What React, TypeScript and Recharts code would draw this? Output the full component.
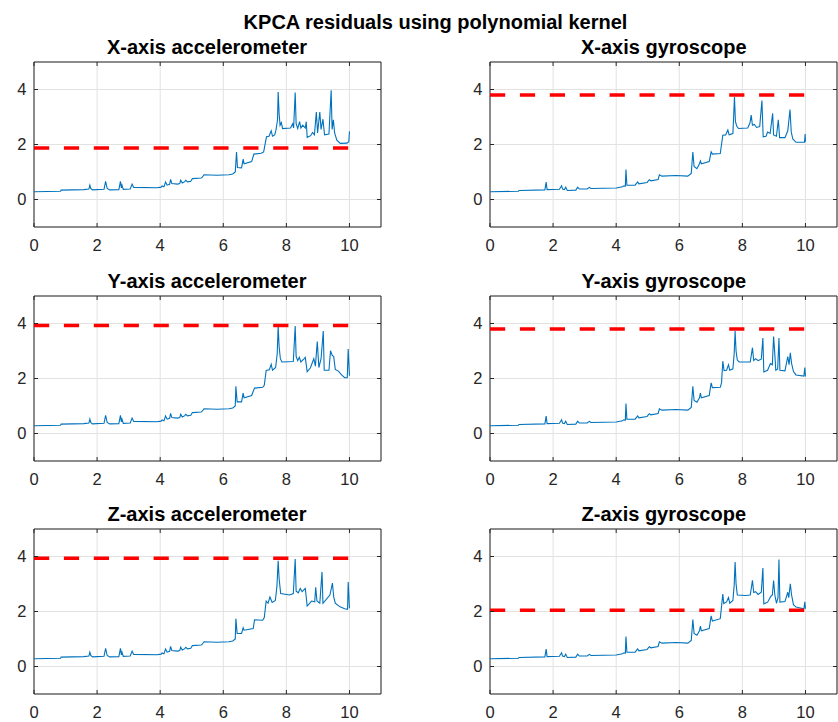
import { CartesianGrid, Line, LineChart, ReferenceArea, XAxis, YAxis } from "recharts";

type Pt = [number, number];

// shared low-amplitude start of the accelerometer residuals (x 0..6.3)
const accelEarly: Pt[] = [
  [0, 0.28], [0.84, 0.3], [0.86, 0.34], [1.58, 0.36], [1.74, 0.38], [1.77, 0.52], [1.8, 0.4], [1.85, 0.35],
  [2.22, 0.37], [2.27, 0.66], [2.32, 0.4], [2.4, 0.35], [2.69, 0.36], [2.74, 0.66], [2.77, 0.42], [2.79, 0.52],
  [2.83, 0.37], [3.05, 0.38], [3.11, 0.56], [3.16, 0.44], [3.9, 0.43], [4.03, 0.45], [4.06, 0.49], [4.12, 0.46],
  [4.17, 0.64], [4.22, 0.52], [4.3, 0.55], [4.33, 0.73], [4.37, 0.58], [4.55, 0.56], [4.62, 0.58], [4.65, 0.7],
  [4.7, 0.6], [4.78, 0.65], [4.81, 0.7], [4.87, 0.64], [4.97, 0.66], [5.02, 0.76], [5.3, 0.78], [5.34, 0.82],
  [5.39, 0.9], [5.8, 0.88], [6.18, 0.9], [6.3, 0.93],
];

const gyroEarly: Pt[] = [
  [0, 0.28], [0.9, 0.3], [0.92, 0.33], [1.74, 0.35], [1.78, 0.63], [1.81, 0.36], [2.2, 0.37], [2.27, 0.5],
  [2.3, 0.38], [2.36, 0.36], [2.4, 0.45], [2.45, 0.33], [2.72, 0.34], [2.78, 0.45], [2.83, 0.38], [3.08, 0.38],
  [3.15, 0.44], [3.2, 0.4], [4.0, 0.42], [4.2, 0.46], [4.24, 0.5], [4.29, 0.48], [4.31, 1.09], [4.34, 0.52],
  [4.6, 0.52], [4.68, 0.64], [4.72, 0.57], [4.98, 0.62], [5.05, 0.72], [5.1, 0.68], [5.33, 0.73], [5.37, 0.9],
  [5.45, 0.85], [5.9, 0.87], [6.27, 0.85],
];

const accelXLate: Pt[] = [
  [6.38, 1.0], [6.42, 1.73], [6.45, 1.16], [6.58, 1.15], [6.63, 1.47], [6.66, 1.3], [6.9, 1.38], [6.97, 1.65],
  [7.2, 1.68], [7.28, 1.73], [7.37, 2.28], [7.45, 2.3], [7.52, 2.5], [7.56, 2.3], [7.63, 2.35], [7.67, 2.52],
  [7.72, 2.9], [7.74, 3.91], [7.77, 3.13], [7.8, 2.7], [7.84, 2.8], [7.88, 2.58], [8.13, 2.6], [8.2, 2.75],
  [8.23, 2.6], [8.28, 3.89], [8.31, 2.76], [8.36, 2.58], [8.42, 2.83], [8.46, 2.6], [8.52, 2.7], [8.6, 2.6],
  [8.63, 2.83], [8.66, 2.26], [8.77, 2.32], [8.83, 2.44], [8.89, 2.35], [8.95, 3.18], [8.99, 2.42], [9.06, 3.18],
  [9.1, 2.55], [9.16, 2.92], [9.21, 2.35], [9.35, 2.38], [9.42, 3.97], [9.45, 2.55], [9.49, 2.9], [9.53, 2.42],
  [9.6, 2.16], [9.71, 2.04], [9.92, 2.05], [9.98, 2.1], [10, 2.48],
];

const accelYLate: Pt[] = [
  [6.38, 1.0], [6.4, 1.72], [6.44, 1.15], [6.58, 1.15], [6.63, 1.47], [6.66, 1.3], [6.9, 1.38], [6.99, 1.65],
  [7.25, 1.68], [7.3, 1.75], [7.36, 2.29], [7.46, 2.32], [7.52, 2.52], [7.56, 2.3], [7.66, 2.4], [7.71, 2.9],
  [7.74, 3.9], [7.77, 3.17], [7.81, 2.72], [7.86, 2.6], [8.22, 2.62], [8.28, 3.91], [8.31, 2.8], [8.36, 2.65],
  [8.41, 2.77], [8.46, 2.6], [8.55, 2.7], [8.6, 2.77], [8.66, 2.25], [8.76, 2.38], [8.87, 2.72], [8.92, 2.45],
  [8.98, 3.34], [9.03, 2.4], [9.1, 2.72], [9.17, 3.73], [9.2, 2.3], [9.35, 2.3], [9.4, 3.01], [9.45, 2.85],
  [9.5, 2.8], [9.55, 2.33], [9.65, 2.27], [9.75, 2.13], [9.85, 2.03], [9.93, 2.03], [9.96, 3.07], [10, 2.1],
];

const accelZLate: Pt[] = [
  [6.38, 1.0], [6.4, 1.74], [6.44, 1.2], [6.58, 1.2], [6.63, 1.41], [6.66, 1.32], [6.95, 1.38], [6.99, 1.7],
  [7.25, 1.68], [7.3, 1.78], [7.36, 2.38], [7.42, 2.3], [7.48, 2.53], [7.55, 2.33], [7.65, 2.4], [7.7, 2.9],
  [7.74, 3.84], [7.77, 3.2], [7.82, 2.65], [8.1, 2.6], [8.22, 2.65], [8.28, 3.91], [8.31, 2.74], [8.38, 2.68],
  [8.44, 2.84], [8.5, 2.72], [8.6, 2.84], [8.66, 2.2], [8.8, 2.38], [8.9, 2.35], [8.93, 2.88], [8.97, 2.38],
  [9.06, 2.3], [9.13, 3.44], [9.16, 2.3], [9.38, 2.6], [9.46, 3.03], [9.5, 2.54], [9.55, 2.3], [9.7, 2.17],
  [9.85, 2.1], [9.94, 2.08], [9.96, 3.07], [10, 2.12],
];

const gyroXLate: Pt[] = [
  [6.38, 0.95], [6.43, 1.73], [6.47, 1.2], [6.56, 1.12], [6.64, 1.3], [6.67, 1.4], [6.7, 1.3], [6.95, 1.38],
  [7.01, 1.73], [7.05, 1.65], [7.3, 1.67], [7.38, 2.34], [7.47, 2.35], [7.54, 2.53], [7.58, 2.35], [7.7, 2.4],
  [7.75, 3.73], [7.78, 2.84], [7.82, 2.67], [7.88, 2.58], [8.17, 2.6], [8.24, 2.78], [8.28, 3.07], [8.32, 2.7],
  [8.38, 2.73], [8.45, 2.62], [8.55, 2.65], [8.62, 3.6], [8.66, 2.28], [8.75, 2.3], [8.8, 2.45], [8.88, 2.4],
  [8.96, 3.13], [8.99, 2.35], [9.08, 2.3], [9.14, 2.9], [9.18, 2.25], [9.35, 2.25], [9.44, 2.5], [9.51, 3.27],
  [9.55, 2.45], [9.6, 2.2], [9.7, 2.08], [9.97, 2.08], [9.99, 2.38], [10, 2.1],
];

const gyroYLate: Pt[] = [
  [6.38, 0.95], [6.43, 1.72], [6.47, 1.2], [6.56, 1.14], [6.64, 1.3], [6.67, 1.47], [6.7, 1.3], [6.95, 1.38],
  [7.01, 1.84], [7.05, 1.67], [7.3, 1.68], [7.34, 1.85], [7.38, 2.63], [7.42, 2.29], [7.5, 2.3], [7.56, 2.5],
  [7.6, 2.3], [7.7, 2.35], [7.74, 2.9], [7.77, 3.73], [7.8, 3.0], [7.84, 2.67], [7.9, 2.6], [8.25, 2.6],
  [8.32, 3.12], [8.36, 2.65], [8.42, 2.72], [8.5, 2.65], [8.6, 2.7], [8.65, 3.47], [8.68, 2.24], [8.8, 2.3],
  [8.89, 2.54], [8.95, 2.5], [8.99, 3.53], [9.02, 3.04], [9.06, 2.3], [9.12, 2.35], [9.16, 3.47], [9.19, 2.3],
  [9.35, 2.28], [9.44, 2.8], [9.48, 2.5], [9.52, 2.93], [9.56, 2.55], [9.62, 2.25], [9.7, 2.13], [9.95, 2.09],
  [9.98, 2.4], [10, 2.07],
];

const gyroZLate: Pt[] = [
  [6.38, 0.95], [6.43, 1.71], [6.47, 1.2], [6.56, 1.14], [6.64, 1.3], [6.67, 1.47], [6.7, 1.3], [6.95, 1.38],
  [7.01, 1.84], [7.05, 1.65], [7.3, 1.74], [7.38, 2.63], [7.41, 2.29], [7.5, 2.35], [7.56, 2.51], [7.6, 2.3],
  [7.7, 2.4], [7.74, 2.95], [7.77, 3.8], [7.8, 3.01], [7.84, 2.6], [8.1, 2.58], [8.25, 2.6], [8.32, 3.13],
  [8.36, 2.69], [8.42, 2.72], [8.5, 2.62], [8.6, 2.7], [8.65, 3.58], [8.68, 2.28], [8.8, 2.34], [8.9, 2.55],
  [8.95, 2.6], [8.99, 3.13], [9.03, 2.6], [9.08, 2.3], [9.13, 2.5], [9.16, 3.89], [9.19, 2.34], [9.35, 2.36],
  [9.44, 2.7], [9.47, 2.5], [9.52, 3.01], [9.56, 2.6], [9.62, 2.25], [9.7, 2.16], [9.95, 2.1], [9.98, 2.35],
  [10, 2.1],
];

const titles = [
  "X-axis accelerometer", "X-axis gyroscope",
  "Y-axis accelerometer", "Y-axis gyroscope",
  "Z-axis accelerometer", "Z-axis gyroscope",
];
const series: Pt[][] = [
  [...accelEarly, ...accelXLate], [...gyroEarly, ...gyroXLate],
  [...accelEarly, ...accelYLate], [...gyroEarly, ...gyroYLate],
  [...accelEarly, ...accelZLate], [...gyroEarly, ...gyroZLate],
];
const thresholds = [1.87, 3.8, 3.93, 3.8, 3.94, 2.05];
const thresholdSpan = [0, 10];
const xTicks = [0, 2, 4, 6, 8, 10];
const yTicks = [0, 2, 4];

const FONT = "'Liberation Sans', Arial, Helvetica, sans-serif";
const AX = "#262626";
const PLOT_W = 347;
const PLOT_H = 165;
const M_TOP = 5;
const Y_W = 34;
const COL_LEFT = [33.5, 490.3];
const ROW_TOP = [61.8, 296, 529.3];
const TITLE_BASE = [54.3, 288.3, 521.3];

function XTick(props: any) {
  const { x, payload } = props;
  const bottom = M_TOP + PLOT_H;
  return (
    <g>
      <line x1={x} x2={x} y1={bottom} y2={bottom - 4} stroke={AX} />
      <line x1={x} x2={x} y1={M_TOP} y2={M_TOP + 4} stroke={AX} />
      <text x={x} y={bottom + 23.5} textAnchor="middle" fontSize={16.5} fill={AX} fontFamily={FONT}>
        {payload.value}
      </text>
    </g>
  );
}

function YTick(props: any) {
  const { y, payload } = props;
  return (
    <g>
      <line x1={Y_W} x2={Y_W + 4} y1={y} y2={y} stroke={AX} />
      <line x1={Y_W + PLOT_W - 4} x2={Y_W + PLOT_W} y1={y} y2={y} stroke={AX} />
      <text x={Y_W - 7.5} y={y} dy="0.36em" textAnchor="end" fontSize={16.5} fill={AX} fontFamily={FONT}>
        {payload.value}
      </text>
    </g>
  );
}

function Panel({ idx }: { idx: number }) {
  const left = COL_LEFT[idx % 2];
  const top = ROW_TOP[Math.floor(idx / 2)];
  const data = series[idx].map(([x, y]) => ({ x, y }));
  const limit = thresholdSpan.map((x) => ({ x, t: thresholds[idx] }));
  return (
    <div style={{ position: "absolute", left: left - Y_W, top: top - M_TOP }}>
      <LineChart
        width={Y_W + PLOT_W + 10}
        height={M_TOP + PLOT_H + 30}
        margin={{ top: M_TOP, right: 10, bottom: 0, left: 0 }}
      >
        <CartesianGrid stroke="#e2e2e2" strokeWidth={1} />
        <XAxis
          type="number"
          dataKey="x"
          domain={[0, 11]}
          ticks={xTicks}
          tick={XTick}
          tickLine={false}
          axisLine={false}
          height={30}
          allowDataOverflow
        />
        <YAxis
          type="number"
          domain={[-1, 5]}
          ticks={yTicks}
          tick={YTick}
          tickLine={false}
          axisLine={false}
          width={Y_W}
          allowDataOverflow
        />
        <Line
          data={data}
          dataKey="y"
          stroke="#0072BD"
          strokeWidth={1.1}
          dot={false}
          isAnimationActive={false}
        />
        <Line
          data={limit}
          dataKey="t"
          stroke="#ff0000"
          strokeWidth={3.5}
          strokeDasharray="15.2 14.7"
          dot={false}
          isAnimationActive={false}
        />
        <ReferenceArea x1={0} x2={11} y1={-1} y2={5} fill="none" fillOpacity={0} stroke={AX} strokeWidth={1} />
      </LineChart>
    </div>
  );
}

export default function App() {
  return (
    <div
      style={{
        position: "absolute",
        left: 0,
        top: 0,
        width: 838,
        height: 722,
        overflow: "hidden",
        background: "#fff",
        fontFamily: FONT,
      }}
    >
      <svg width={838} height={722} style={{ position: "absolute", left: 0, top: 0 }}>
        <text x={435.5} y={29.3} textAnchor="middle" fontSize={20} fontWeight="bold" fontFamily={FONT}>
          KPCA residuals using polynomial kernel
        </text>
        {titles.map((t, i) => (
          <text
            key={t}
            x={COL_LEFT[i % 2] + PLOT_W / 2}
            y={TITLE_BASE[Math.floor(i / 2)]}
            textAnchor="middle"
            fontSize={20}
            fontWeight="bold"
            fontFamily={FONT}
          >
            {t}
          </text>
        ))}
      </svg>
      {titles.map((t, i) => (
        <Panel key={t} idx={i} />
      ))}
    </div>
  );
}
